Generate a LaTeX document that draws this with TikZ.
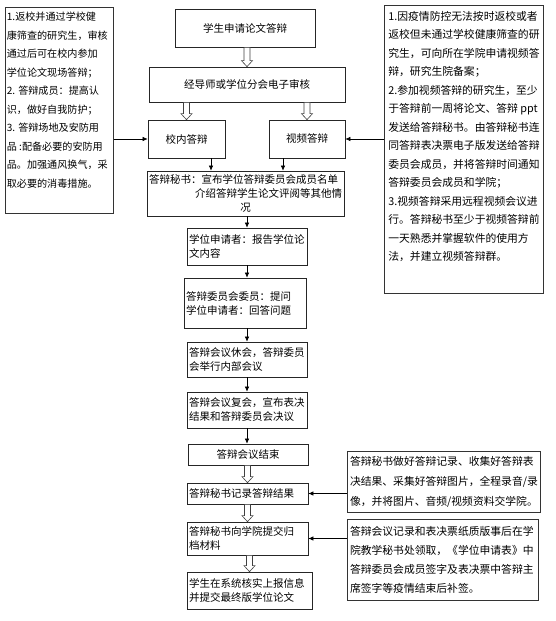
\documentclass[tikz,border=0pt]{standalone}
\usepackage{fontspec}
\setmainfont{Noto Sans CJK SC}
\usetikzlibrary{arrows.meta}
\usetikzlibrary{calc}

% hollow block arrow from one box down to the next
\newcommand{\hollowarrow}[2]{%
  \draw[hollow] let \p1=(#1.south), \p2=(#2.north) in
    (\x2-3pt,\y1) -- (\x2-3pt,\y2+6pt) -- (\x2-5.5pt,\y2+6pt) -- (\x2,\y2)
    -- (\x2+5.5pt,\y2+6pt) -- (\x2+3pt,\y2+6pt) -- (\x2+3pt,\y1) -- cycle;}

\begin{document}
\begin{tikzpicture}[x=1pt,y=-1pt,
    box/.style={draw=black!85, line width=0.7pt, inner xsep=2pt, inner ysep=0pt,
      font=\fontsize{10.5}{14}\selectfont},
    note/.style={draw=black!80, line width=0.7pt, inner xsep=2pt, inner ysep=5pt},
    arr/.style={-{Latex[length=5pt,width=4.5pt]}, line width=0.6pt},
    hollow/.style={draw=black!75, fill=white, line width=0.6pt}]
  \useasboundingbox (0,0) rectangle (555,621);

  % main flow
  \node[box, minimum width=140pt, minimum height=38pt] (apply) at (245,28) {学生申请论文答辩};
  \node[box, minimum width=196pt, minimum height=35pt] (review) at (247,84.5) {经导师或学位分会电子审核};
  \node[box, minimum width=77pt, minimum height=38pt] (campus) at (186.5,139) {校内答辩};
  \node[box, minimum width=76pt, minimum height=38pt] (video) at (307,139) {视频答辩};
  \node[box, text width=193pt, minimum height=45pt, align=left] (announce) at (245.5,193.5)
    {答辩秘书：宣布学位答辩委员会成员名单\\ \hspace*{\fill}介绍答辩学生论文评阅等其他情\\ \hspace*{\fill}况\hspace*{\fill}\null};
  \node[box, text width=116pt, minimum height=37pt, align=left] (report) at (247,246.5)
    {学位申请者：报告学位论\\文内容};
  \node[box, text width=118pt, minimum height=50pt, align=left] (qa) at (245,303)
    {答辩委员会委员：提问\\学位申请者：回答问题};
  \node[box, text width=116pt, minimum height=35pt, align=left] (recess) at (247,359.5)
    {答辩会议休会，答辩委员\\会举行内部会议};
  \node[box, text width=116pt, minimum height=36pt, align=left] (resume) at (247,410)
    {答辩会议复会，宣布表决\\结果和答辩委员会决议};
  \node[box, minimum width=120pt, minimum height=21pt] (finish) at (248,454.5) {答辩会议结束};
  \node[box, text width=117pt, minimum height=21pt, align=left] (record) at (247.5,493.5)
    {答辩秘书记录答辩结果};
  \node[box, text width=117pt, minimum height=33pt, align=left] (archive) at (247.5,538.5)
    {答辩秘书向学院提交归\\档材料};
  \node[box, text width=121pt, minimum height=37pt, align=left] (upload) at (249.5,590.5)
    {学生在系统核实上报信息\\并提交最终版学位论文};

  % side notes
  \node[note, anchor=north west, inner xsep=1.5pt] (leftnote) at (5,7)
    {\parbox[c][196pt][t]{105pt}{\raggedright\fontsize{10.1}{18.5}\selectfont
      1.返校并通过学校健\\康筛查的研究生，审核\\通过后可在校内参加\\学位论文现场答辩；\\
      2. 答辩成员：提高认\\识，做好自我防护；\\3. 答辩场地及安防用\\品 :配备必要的安防用\\
      品。加强通风换气，采\\取必要的消毒措施。}};
  \node[note, anchor=north west, inner xsep=4pt, inner ysep=6pt] (rightnote) at (384,5)
    {\parbox[c][276pt][t]{151pt}{\raggedright\fontsize{10.8}{18.5}\selectfont
      1.因疫情防控无法按时返校或者\\返校但未通过学校健康筛查的研\\究生，可向所在学院申请视频答\\
      辩，研究生院备案；\\2.参加视频答辩的研究生，至少\\于答辩前一周将论文、答辩 ppt\\
      发送给答辩秘书。由答辩秘书连\\同答辩表决票电子版发送给答辩\\委员会成员，并将答辩时间通知\\
      答辩委员会成员和学院；\\3.视频答辩采用远程视频会议进\\行。答辩秘书至少于视频答辩前\\
      一天熟悉并掌握软件的使用方\\法，并建立视频答辩群。}};
  \node[note, inner xsep=3pt, text width=187pt, minimum height=60pt, align=left,
    font=\fontsize{10.8}{20}\selectfont] (recnote) at (443.5,482)
    {答辩秘书做好答辩记录、收集好答辩表\\决结果、采集好答辩图片，全程录音/录\\像，并将图片、音频/视频资料交学院。};
  \node[note, inner xsep=3pt, text width=185pt, minimum height=81pt, align=left,
    font=\fontsize{10.8}{19}\selectfont] (arcnote) at (442.5,559.5)
    {答辩会议记录和表决票纸质版事后在学\\院教学秘书处领取，《学位申请表》中\\答辩委员会成员签字及表决票中答辩主\\席签字等疫情结束后补签。};

  % hollow arrows
  \hollowarrow{apply}{review}
  \hollowarrow{review}{campus}
  \hollowarrow{review}{video}
  \hollowarrow{finish}{record}
  \hollowarrow{record}{archive}
  \hollowarrow{archive}{upload}

  % plain arrows
  \draw[arr] ([xshift=24.5pt]campus.south) -- ([xshift=24.5pt]campus.south |- announce.north);
  \draw[arr] ([xshift=-24pt]video.south) -- ([xshift=-24pt]video.south |- announce.north);
  \draw[arr] (report.north |- announce.south) -- (report.north);
  \draw[arr] (report.south) -- (report.south |- qa.north);
  \draw[arr] (recess.north |- qa.south) -- (recess.north);
  \draw[arr] (recess.south) -- (recess.south |- resume.north);
  \draw[arr] (resume.south) -- (resume.south |- finish.north);

  % notes into the flow
  \draw[arr] (campus.west -| leftnote.east) -- (campus.west);
  \draw[arr] (video.east -| rightnote.west) -- (video.east);
  \draw[arr] (record.east -| recnote.west) -- (record.east);
  \draw[arr] (archive.east -| arcnote.west) -- (archive.east);
\end{tikzpicture}
\end{document}
